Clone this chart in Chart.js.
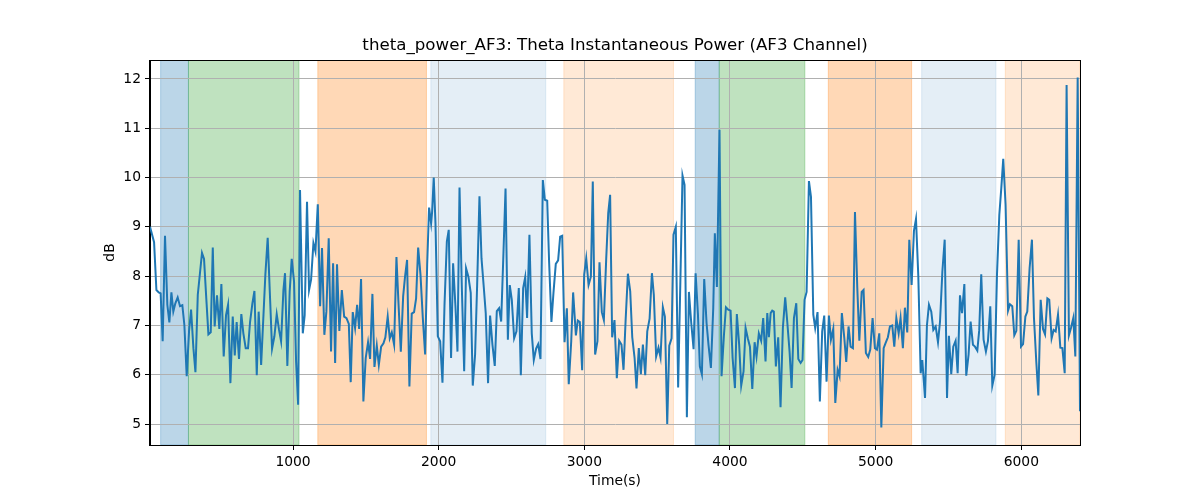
<!DOCTYPE html>
<html><head><meta charset="utf-8">
<script src="https://cdn.jsdelivr.net/npm/chart.js@4"></script>
<style>html,body{margin:0;padding:0;background:#fff;} canvas{display:block;}</style>
</head><body>
<canvas id="c" width="1200" height="500"></canvas>
<script>
const times = [
18,46,62,78,91,105,121,137,151,165,178,192,208,224,240,254,270,286,300,316,330,346,362,375,389,403,419,435,449,462,478,494,508,524,540,554,570,586,600,613,629,645,659,675,691,705,721,735,751,764,781,797,810,826,840,856,872,888,904,918,934,945,961,977,991,1007,1021,1035,1048,
1067,1080,1096,1110,1124,1140,1154,1170,1186,1199,1215,1229,1245,1261,1275,1289,1302,1318,1335,1351,1367,1383,1396,1410,1426,1440,1454,1467,1483,1499,1515,1529,1545,1559,1575,1589,1605,1621,1634,1650,1664,1678,1694,1710,1724,1740,1756,1769,1783,1799,1815,1831,1845,1859,1875,1891,1907,1921,1934,1948,1955,1966,1978,1994,2010,2026,2040,2056,2069,2085,2099,2115,2129,
2143,2159,2175,2188,2204,2220,2234,2250,2264,2280,2294,2310,2323,2339,2353,2369,2385,2399,2415,2429,2445,2459,2475,2488,2502,2518,2534,2550,2564,2580,2594,2607,2623,2639,2653,2669,2683,2699,2715,2729,2745,2758,2774,2788,2804,2820,2834,2848,2864,2880,2893,2910,2923,2942,2955,2969,2985,2999,3013,3029,3045,3058,3074,3090,3104,3120,3134,3150,3164,3177,
3191,3207,3223,3239,3255,3269,3283,3299,3315,3329,3345,3358,3374,3388,3402,3418,3432,3448,3464,3477,3493,3509,3523,3539,3553,3569,3583,3599,3612,3628,3644,3658,3674,3688,3704,3718,3734,3750,3764,3780,3793,3807,3823,3839,3853,3869,3885,3896,3910,3928,3942,3958,3972,3988,4004,4018,4034,4047,4063,4077,4093,4107,4123,4137,4153,4169,4182,4198,4214,4228,4244,
4256,4267,4279,4290,4301,4315,4331,4347,4363,4379,4393,4409,4423,4439,4455,4469,4485,4498,4512,4526,4542,4556,4572,4585,4601,4617,4633,4647,4663,4679,4693,4709,4723,4739,4752,4768,4785,4798,4814,4828,4844,4858,4874,4888,4904,4917,4933,4949,4963,4979,4995,5009,5025,5039,5055,5068,5084,5098,5114,5128,5142,5158,5171,5187,5201,5217,5231,5247,5263,5277,5293,5309,5320,5339,
5352,5366,5382,5396,5412,5428,5442,5458,5474,5490,5503,5519,5533,5549,5563,5579,5593,5609,5622,5638,5652,5668,5682,5698,5711,5725,5741,5757,5771,5787,5801,5817,5833,5849,5863,5876,5892,5909,5922,5938,5952,5966,5982,5998,6012,6028,6041,6057,6073,6087,6103,6117,6133,6149,6163,6179,6192,6208,6222,6236,6252,6268,6282,6298,6311,6327,6341,6357,6371,6387,6403
];
const values = [
9.0,8.69,7.72,7.67,7.65,6.68,8.82,7.42,7.06,7.67,7.28,7.45,7.57,7.39,7.41,7.01,5.97,6.88,7.32,6.54,6.05,7.62,8.09,8.47,8.35,7.62,6.82,6.86,8.58,6.98,7.61,6.93,7.84,6.37,7.21,7.42,5.83,7.18,6.39,7.07,6.32,7.23,6.84,6.54,6.54,7.07,7.45,7.70,5.99,7.28,6.20,7.21,8.03,8.78,7.72,6.53,6.78,7.23,6.91,6.68,7.72,8.06,6.18,7.69,8.35,7.89,6.27,5.39,9.75,
6.84,7.21,9.51,7.72,7.93,8.67,8.5,9.46,7.39,8.57,6.81,7.28,8.77,6.47,8.26,6.24,8.24,6.89,7.72,7.18,7.15,7.03,5.85,7.27,6.95,7.42,6.93,7.94,5.46,6.34,6.66,6.32,7.64,6.16,6.59,6.2,6.57,6.64,6.76,7.18,6.74,6.86,6.61,8.39,7.45,6.47,7.59,7.99,8.33,5.76,7.24,7.27,7.55,8.58,8.03,7.15,6.41,8.23,9.39,9.07,9.31,10.0,9.07,6.78,6.68,5.84,7.42,8.70,8.94,6.34,8.26,7.39,6.47,
9.80,7.76,6.07,8.16,7.99,7.66,5.78,6.41,7.82,9.62,8.36,7.76,7.25,5.83,7.2,6.61,6.18,7.29,7.35,7.08,8.5,9.78,6.71,7.82,7.52,6.74,6.88,7.76,5.99,7.76,7.98,7.15,8.84,6.84,6.30,6.53,6.62,6.32,9.95,9.55,9.53,8.3,7.07,7.66,8.25,8.32,8.8,8.82,6.66,7.35,5.81,6.68,7.67,6.8,7.1,7.07,6.09,8.03,8.36,7.82,7.99,9.92,6.41,6.68,8.28,7.27,7.11,8.34,9.28,9.65,
6.76,7.11,5.93,6.69,6.61,6.1,7.08,8.05,7.69,6.76,6.34,5.72,6.54,6.01,6.61,5.99,6.88,7.14,8.06,7.62,6.37,6.55,6.35,7.37,7.18,5.0,6.59,6.74,8.84,9.0,5.74,7.72,10.04,9.85,5.14,7.68,7.05,6.52,8.06,7.22,6.17,6.01,7.94,7.05,6.59,6.14,7.35,8.87,7.78,10.97,5.97,6.78,7.37,7.32,7.30,6.34,5.73,7.23,6.61,5.78,6.07,6.95,6.73,6.57,5.71,6.66,6.37,6.84,6.69,7.15,6.27,
7.25,6.76,7.25,7.30,7.28,6.17,6.76,5.34,6.95,7.57,7.08,6.47,5.73,7.15,7.45,6.32,6.24,6.30,7.52,7.68,9.93,9.61,7.22,6.95,7.27,5.46,6.88,7.20,5.86,7.20,6.71,6.93,5.43,6.10,5.97,7.25,6.74,6.26,6.98,6.57,6.54,9.30,7.76,6.69,7.68,7.72,6.44,6.36,6.51,7.15,6.54,6.51,6.84,4.93,6.54,6.64,6.76,6.98,7.0,6.57,7.15,6.84,7.15,6.54,7.36,6.86,8.74,7.82,8.92,9.16,7.99,6.03,6.30,5.53,
7.0,7.42,7.28,6.91,6.98,6.66,7.08,8.09,8.74,5.53,6.79,6.01,6.57,6.69,6.03,7.61,7.25,7.84,5.98,6.41,7.08,6.61,6.57,6.49,6.9,8.04,6.71,6.47,6.68,7.39,5.78,6.0,8.03,9.24,9.8,10.38,9.45,7.30,7.43,7.39,6.80,6.89,8.74,6.57,6.62,7.18,7.28,8.16,8.74,7.15,6.26,5.58,7.52,6.93,6.82,7.55,7.52,6.74,6.91,6.88,7.22,6.55,6.54,6.03,11.88,6.80,6.95,7.15,6.37,12.03,5.26
];
const xTicks = [1000,2000,3000,4000,5000,6000];
const yTicks = [5,6,7,8,9,10,11,12];
const spanStarts = [91, 282, 1170, 1946, 2859, 3761, 3926, 4675, 5316, 5890];
const spanEnds   = [282, 1041, 1916, 2735, 3612, 3926, 4514, 5247, 5826, 6403];
const spanColors = [
  'rgba(31,119,180,0.3)','rgba(44,160,44,0.3)','rgba(255,127,14,0.3)','rgba(31,119,180,0.12)','rgba(255,127,14,0.17)',
  'rgba(31,119,180,0.3)','rgba(44,160,44,0.3)','rgba(255,127,14,0.3)','rgba(31,119,180,0.12)','rgba(255,127,14,0.17)'
];
const titleText = 'theta_power_AF3: Theta Instantaneous Power (AF3 Channel)';
const xLabel = 'Time(s)';
const yLabel = 'dB';

const points = times.map((t, i) => ({x: t, y: values[i]}));
const FONT = 'DejaVu Sans';

const spanPlugin = {
  id: 'spans',
  beforeDraw(chart) {
    const {ctx, chartArea: a, scales: {x}} = chart;
    ctx.save();
    ctx.beginPath();
    ctx.rect(a.left, a.top, a.right - a.left, a.bottom - a.top);
    ctx.clip();
    for (let i = 0; i < spanStarts.length; i++) {
      const x0 = x.getPixelForValue(spanStarts[i]);
      const x1 = x.getPixelForValue(spanEnds[i]);
      ctx.fillStyle = spanColors[i];
      ctx.fillRect(x0, a.top, x1 - x0, a.bottom - a.top);
      ctx.strokeStyle = spanColors[i];
      ctx.lineWidth = 1;
      ctx.strokeRect(x0, a.top, x1 - x0, a.bottom - a.top);
    }
    ctx.restore();
  }
};
const spinePlugin = {
  id: 'spines',
  afterDatasetsDraw(chart) {
    const {ctx, chartArea: a} = chart;
    ctx.save();
    ctx.strokeStyle = '#000';
    ctx.lineWidth = 1;
    ctx.strokeRect(Math.round(a.left) - 0.5, Math.round(a.top) + 0.5, Math.round(a.right - a.left) + 1, Math.round(a.bottom - a.top));
    ctx.restore();
  }
};

new Chart(document.getElementById('c'), {
  type: 'line',
  data: { datasets: [{
    data: points,
    borderColor: '#1f77b4',
    borderWidth: 2,
    pointRadius: 0,
    tension: 0,
    fill: false
  }]},
  options: {
    responsive: false,
    animation: false,
    devicePixelRatio: 1,
    parsing: true,
    layout: { padding: { left: 0, right: 120, top: 0, bottom: 0 } },
    plugins: {
      legend: { display: false },
      tooltip: { enabled: false },
      title: {
        display: true, text: titleText, color: '#000', fullSize: false,
        font: { family: FONT, size: 16.67, weight: 'normal', lineHeight: 1.2 },
        padding: { top: 36, bottom: 4 }
      }
    },
    scales: {
      x: {
        type: 'linear', min: 18, max: 6403,
        afterBuildTicks: s => { s.ticks = xTicks.map(v => ({value: v})); },
        afterFit: s => { s.height = 55; },
        ticks: { callback: v => String(v), color: '#000', font: { family: FONT, size: 13.89 }, padding: 4, maxRotation: 0, autoSkip: false },
        grid: { color: '#b0b0b0', lineWidth: 1, tickLength: 5, tickColor: '#000', tickWidth: 1 },
        border: { color: '#000', width: 1 },
        title: { display: true, text: xLabel, color: '#000', font: { family: FONT, size: 13.89, lineHeight: 1.2 }, padding: { top: 0, bottom: 10.7 } }
      },
      y: {
        type: 'linear', min: 4.575, max: 12.385,
        afterBuildTicks: s => { s.ticks = yTicks.map(v => ({value: v})); },
        afterFit: s => { s.width = 150; },
        ticks: { callback: v => String(v), color: '#000', font: { family: FONT, size: 13.89 }, padding: 4, autoSkip: false },
        grid: { color: '#b0b0b0', lineWidth: 1, tickLength: 5, tickColor: '#000', tickWidth: 1 },
        border: { color: '#000', width: 1 },
        title: { display: true, text: yLabel, color: '#000', font: { family: FONT, size: 13.89, lineHeight: 1.2 }, padding: { top: 101.7, bottom: 0 } }
      }
    }
  },
  plugins: [spanPlugin, spinePlugin]
});
</script>
</body></html>
